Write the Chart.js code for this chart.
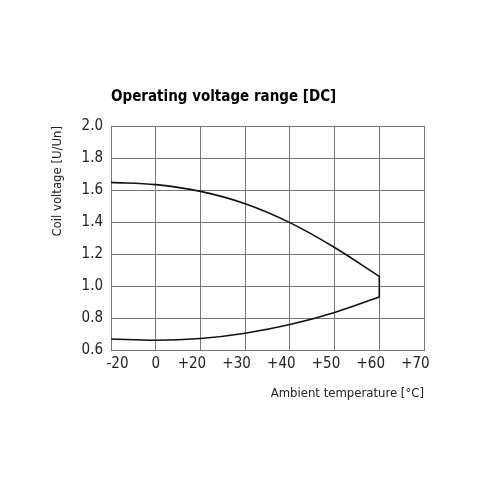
<!DOCTYPE html>
<html>
<head>
<meta charset="utf-8">
<script src="https://cdn.jsdelivr.net/npm/chart.js@4.4.1/dist/chart.umd.min.js"></script>
<style>
html,body{margin:0;padding:0;background:#fff;}
#wrap{position:absolute;left:0;top:0;width:480px;height:480px;}
</style>
</head>
<body>
<div id="wrap"><canvas id="c" width="480" height="480"></canvas></div>
<script>
const titleText = 'Operating voltage range [DC]';
const xAxisTitle = 'Ambient temperature [°C]';
const yAxisTitle = 'Coil voltage [U/Un]';
const xTickLabels = ['-20', '0', '+20', '+30', '+40', '+50', '+60', '+70'];
const upperVoltage = [1.648, 1.634, 1.592, 1.515, 1.397, 1.242, 1.062];
const lowerVoltage = [0.671, 0.663, 0.674, 0.707, 0.761, 0.837, 0.933];
const yMin = 0.6, yMax = 2.0, yStep = 0.2;

const FONT = '"Liberation Sans Narrow", "DejaVu Sans Condensed", "Roboto Condensed", sans-serif';
const lastIdx = upperVoltage.length - 1;
const connector = [
  {x: xTickLabels[lastIdx], y: upperVoltage[lastIdx]},
  {x: xTickLabels[lastIdx], y: lowerVoltage[lastIdx]}
];

// the printed labels sit a little left of their grid lines ("+" labels), or right of it ("-20")
function placeLabel(lbl) {
  if (lbl.charAt(0) === '+') return lbl + '    ';
  if (lbl.charAt(0) === '-') return '   ' + lbl;
  return lbl;
}

new Chart(document.getElementById('c'), {
  type: 'line',
  data: {
    labels: xTickLabels,
    datasets: [
      {data: upperVoltage, borderColor: '#111', borderWidth: 1.6, pointRadius: 0, cubicInterpolationMode: 'monotone', fill: false},
      {data: lowerVoltage, borderColor: '#111', borderWidth: 1.6, pointRadius: 0, cubicInterpolationMode: 'monotone', fill: false},
      {data: connector, borderColor: '#111', borderWidth: 1.6, pointRadius: 0, tension: 0, fill: false}
    ]
  },
  options: {
    responsive: false,
    animation: false,
    devicePixelRatio: 1,
    layout: {padding: {left: 46, right: 56, top: 88, bottom: 75}},
    plugins: {
      legend: {display: false},
      tooltip: {enabled: false},
      title: {
        display: true, text: titleText, align: 'start', fullSize: false,
        color: '#000', font: {family: FONT, size: 15, weight: 'bold'},
        padding: {top: 0, bottom: 20}
      }
    },
    scales: {
      x: {
        type: 'category', offset: false,
        grid: {color: '#777', lineWidth: 1, drawTicks: false},
        border: {color: '#777', width: 1},
        ticks: {color: '#222', font: {family: FONT, size: 15}, padding: 5, maxRotation: 0, autoSkip: false,
          callback: function (v, i) { return placeLabel(xTickLabels[i]); }},
        title: {display: true, text: xAxisTitle, align: 'end', color: '#222', font: {family: FONT, size: 13}, padding: {top: 7}}
      },
      y: {
        min: yMin, max: yMax,
        grid: {color: '#777', lineWidth: 1, drawTicks: false},
        border: {color: '#777', width: 1},
        ticks: {stepSize: yStep, color: '#222', font: {family: FONT, size: 15}, padding: 8,
          callback: v => v.toFixed(1)},
        title: {display: true, text: yAxisTitle, align: 'end', color: '#222', font: {family: FONT, size: 13}, padding: {bottom: 8}}
      }
    }
  }
});
</script>
</body>
</html>
